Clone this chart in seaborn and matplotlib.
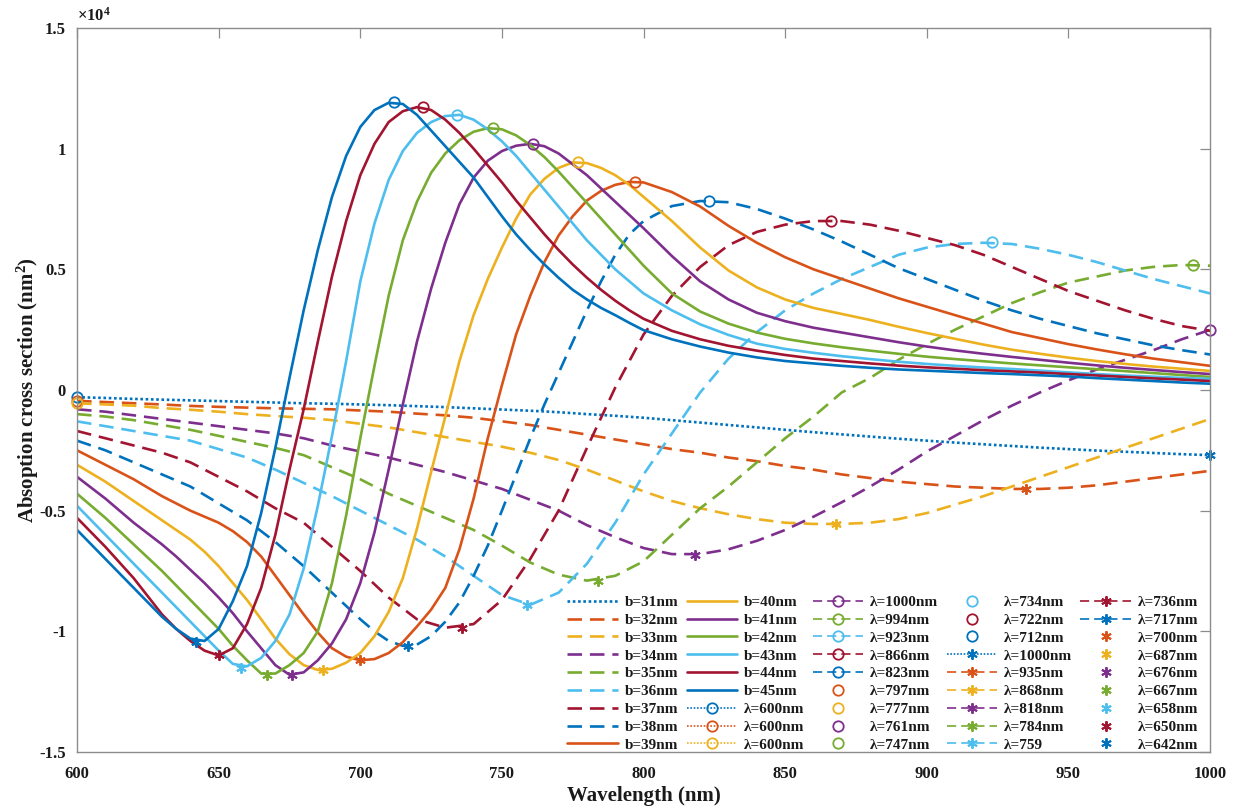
import matplotlib
matplotlib.use("Agg")
import matplotlib.pyplot as plt
import seaborn as sns

# ---------------- data (values in units of 1e4 nm^2) ----------------
# coarse grid (10 nm) for the broad curves b = 31..37
wavelength_coarse = [600, 610, 620, 630, 640, 650, 660, 670, 680, 690, 700,
                     710, 720, 730, 740, 750, 760, 770, 780, 790, 800,
                     810, 820, 830, 840, 850, 860, 870, 880, 890, 900,
                     910, 920, 930, 940, 950, 960, 970, 980, 990, 1000]
# fine grid (5 nm up to 800 nm, then 10 nm) for the sharp curves b = 38..45
wavelength_fine = [600, 605, 610, 615, 620, 625, 630, 635, 640, 645, 650,
                   655, 660, 665, 670, 675, 680, 685, 690, 695, 700,
                   705, 710, 715, 720, 725, 730, 735, 740, 745, 750,
                   755, 760, 765, 770, 775, 780, 785, 790, 795, 800,
                   810, 820, 830, 840, 850, 860, 870, 880, 890, 900,
                   910, 920, 930, 940, 950, 960, 970, 980, 990, 1000]

sigma_b31 = [-0.030, -0.033, -0.037, -0.040, -0.043, -0.046, -0.049, -0.052, -0.055, -0.057, -0.060,
             -0.063, -0.067, -0.071, -0.076, -0.081, -0.086, -0.092, -0.100, -0.107, -0.115,
             -0.125, -0.135, -0.145, -0.155, -0.165, -0.175, -0.184, -0.193, -0.202, -0.210,
             -0.218, -0.225, -0.232, -0.239, -0.245, -0.251, -0.256, -0.261, -0.266, -0.270]
sigma_b32 = [-0.045, -0.050, -0.055, -0.060, -0.066, -0.070, -0.073, -0.076, -0.078, -0.080, -0.085,
             -0.090, -0.098, -0.105, -0.115, -0.130, -0.145, -0.165, -0.185, -0.205, -0.225,
             -0.245, -0.260, -0.280, -0.295, -0.315, -0.330, -0.350, -0.365, -0.380, -0.390,
             -0.400, -0.405, -0.410, -0.410, -0.405, -0.395, -0.380, -0.365, -0.350, -0.335]
sigma_b33 = [-0.055, -0.060, -0.065, -0.075, -0.082, -0.090, -0.100, -0.108, -0.115, -0.125, -0.140,
             -0.155, -0.175, -0.195, -0.215, -0.235, -0.260, -0.290, -0.330, -0.375, -0.420,
             -0.460, -0.490, -0.515, -0.535, -0.550, -0.555, -0.555, -0.550, -0.535, -0.510,
             -0.475, -0.440, -0.400, -0.360, -0.320, -0.280, -0.240, -0.200, -0.160, -0.120]
sigma_b34 = [-0.080, -0.090, -0.105, -0.120, -0.135, -0.150, -0.165, -0.180, -0.200, -0.230, -0.255,
             -0.280, -0.310, -0.340, -0.375, -0.410, -0.455, -0.500, -0.560, -0.610, -0.655,
             -0.680, -0.680, -0.660, -0.625, -0.580, -0.525, -0.465, -0.400, -0.330, -0.255,
             -0.190, -0.125, -0.065, -0.010, 0.040, 0.085, 0.125, 0.165, 0.210, 0.249]
sigma_b35 = [-0.100, -0.110, -0.125, -0.145, -0.165, -0.190, -0.215, -0.240, -0.270, -0.320, -0.370,
             -0.430, -0.480, -0.530, -0.580, -0.645, -0.715, -0.765, -0.790, -0.770, -0.710,
             -0.600, -0.490, -0.400, -0.300, -0.200, -0.110, -0.010, 0.050, 0.125, 0.190,
             0.250, 0.305, 0.360, 0.405, 0.445, 0.470, 0.495, 0.510, 0.518, 0.515]
sigma_b36 = [-0.130, -0.150, -0.170, -0.190, -0.210, -0.245, -0.280, -0.330, -0.385, -0.440, -0.500,
             -0.560, -0.620, -0.690, -0.770, -0.850, -0.890, -0.840, -0.720, -0.550, -0.350,
             -0.180, -0.010, 0.130, 0.240, 0.330, 0.400, 0.460, 0.510, 0.560, 0.590,
             0.605, 0.610, 0.605, 0.585, 0.560, 0.530, 0.495, 0.460, 0.430, 0.400]
sigma_b37 = [-0.170, -0.200, -0.230, -0.260, -0.300, -0.360, -0.420, -0.490, -0.550, -0.650, -0.750,
             -0.860, -0.950, -0.985, -0.970, -0.870, -0.700, -0.500, -0.240, 0.010, 0.230,
             0.390, 0.510, 0.600, 0.655, 0.685, 0.700, 0.700, 0.685, 0.660, 0.630,
             0.600, 0.560, 0.510, 0.460, 0.410, 0.370, 0.330, 0.295, 0.265, 0.245]

sigma_b38 = [-0.210, -0.230, -0.250, -0.275, -0.300, -0.325, -0.350, -0.375, -0.400, -0.435, -0.470,
             -0.505, -0.540, -0.585, -0.630, -0.680, -0.730, -0.785, -0.840, -0.895, -0.950,
             -1.000, -1.040, -1.060, -1.055, -1.020, -0.960, -0.880, -0.770, -0.645, -0.500,
             -0.350, -0.200, -0.060, 0.070, 0.200, 0.330, 0.450, 0.560, 0.645, 0.700,
             0.762, 0.783, 0.778, 0.750, 0.710, 0.665, 0.615, 0.560, 0.505, 0.460,
             0.415, 0.370, 0.330, 0.295, 0.265, 0.235, 0.210, 0.185, 0.165, 0.147]
sigma_b39 = [-0.250, -0.280, -0.310, -0.340, -0.370, -0.405, -0.440, -0.470, -0.500, -0.525, -0.550,
             -0.585, -0.630, -0.690, -0.770, -0.850, -0.930, -1.005, -1.070, -1.105, -1.120,
             -1.115, -1.090, -1.045, -0.980, -0.910, -0.820, -0.660, -0.450, -0.200, 0.020,
             0.230, 0.390, 0.530, 0.640, 0.720, 0.785, 0.825, 0.850, 0.862, 0.860,
             0.820, 0.760, 0.680, 0.610, 0.550, 0.500, 0.460, 0.420, 0.380, 0.345,
             0.310, 0.275, 0.240, 0.215, 0.190, 0.168, 0.148, 0.130, 0.115, 0.100]
sigma_b40 = [-0.310, -0.345, -0.380, -0.420, -0.460, -0.500, -0.540, -0.580, -0.620, -0.670, -0.730,
             -0.800, -0.870, -0.950, -1.030, -1.095, -1.140, -1.160, -1.155, -1.130, -1.090,
             -1.020, -0.920, -0.780, -0.575, -0.340, -0.110, 0.120, 0.310, 0.460, 0.590,
             0.710, 0.810, 0.875, 0.920, 0.943, 0.940, 0.920, 0.890, 0.850, 0.800,
             0.700, 0.590, 0.495, 0.425, 0.375, 0.340, 0.315, 0.290, 0.262, 0.236,
             0.212, 0.188, 0.167, 0.150, 0.134, 0.120, 0.108, 0.097, 0.088, 0.079]
sigma_b41 = [-0.360, -0.405, -0.450, -0.500, -0.550, -0.595, -0.640, -0.690, -0.745, -0.800, -0.860,
             -0.925, -1.000, -1.070, -1.140, -1.180, -1.170, -1.120, -1.050, -0.950, -0.800,
             -0.590, -0.330, -0.060, 0.200, 0.420, 0.610, 0.770, 0.880, 0.950, 0.990,
             1.012, 1.020, 1.010, 0.980, 0.935, 0.890, 0.835, 0.780, 0.725, 0.670,
             0.555, 0.450, 0.375, 0.320, 0.285, 0.258, 0.238, 0.218, 0.198, 0.180,
             0.164, 0.150, 0.137, 0.125, 0.113, 0.102, 0.092, 0.083, 0.074, 0.066]
sigma_b42 = [-0.430, -0.480, -0.530, -0.585, -0.640, -0.695, -0.750, -0.810, -0.870, -0.930, -0.990,
             -1.060, -1.120, -1.175, -1.175, -1.140, -1.090, -1.000, -0.800, -0.520, -0.200,
             0.100, 0.390, 0.620, 0.780, 0.900, 0.980, 1.035, 1.070, 1.085, 1.080,
             1.055, 1.015, 0.965, 0.905, 0.840, 0.775, 0.710, 0.645, 0.580, 0.515,
             0.400, 0.325, 0.275, 0.238, 0.212, 0.193, 0.177, 0.163, 0.150, 0.138,
             0.128, 0.119, 0.110, 0.102, 0.094, 0.086, 0.078, 0.070, 0.062, 0.054]
sigma_b43 = [-0.480, -0.540, -0.600, -0.660, -0.720, -0.780, -0.840, -0.900, -0.960, -1.020, -1.080,
             -1.135, -1.145, -1.110, -1.040, -0.930, -0.740, -0.480, -0.190, 0.120, 0.450,
             0.690, 0.870, 0.990, 1.065, 1.110, 1.135, 1.140, 1.120, 1.080, 1.030,
             0.970, 0.900, 0.830, 0.760, 0.690, 0.620, 0.560, 0.500, 0.450, 0.400,
             0.330, 0.272, 0.228, 0.192, 0.170, 0.154, 0.140, 0.128, 0.117, 0.108,
             0.100, 0.093, 0.087, 0.080, 0.073, 0.066, 0.060, 0.055, 0.050, 0.046]
sigma_b44 = [-0.530, -0.590, -0.650, -0.715, -0.780, -0.855, -0.930, -0.990, -1.040, -1.080, -1.100,
             -1.070, -0.970, -0.820, -0.600, -0.330, -0.080, 0.200, 0.470, 0.700, 0.890,
             1.020, 1.110, 1.155, 1.172, 1.160, 1.120, 1.065, 1.000, 0.930, 0.860,
             0.785, 0.715, 0.645, 0.580, 0.520, 0.465, 0.415, 0.370, 0.330, 0.295,
             0.245, 0.210, 0.183, 0.163, 0.145, 0.130, 0.120, 0.110, 0.101, 0.094,
             0.088, 0.082, 0.077, 0.072, 0.066, 0.060, 0.054, 0.048, 0.043, 0.037]
sigma_b45 = [-0.580, -0.640, -0.700, -0.760, -0.820, -0.880, -0.940, -0.990, -1.030, -1.040, -0.990,
             -0.875, -0.730, -0.510, -0.240, 0.050, 0.330, 0.580, 0.800, 0.970, 1.090,
             1.160, 1.190, 1.185, 1.140, 1.075, 1.010, 0.945, 0.880, 0.800, 0.720,
             0.645, 0.580, 0.520, 0.465, 0.415, 0.375, 0.340, 0.310, 0.278, 0.248,
             0.210, 0.180, 0.155, 0.135, 0.120, 0.110, 0.100, 0.092, 0.085, 0.080,
             0.075, 0.070, 0.066, 0.061, 0.056, 0.049, 0.043, 0.037, 0.031, 0.026]

b_values = [31, 32, 33, 34, 35, 36, 37, 38, 39, 40, 41, 42, 43, 44, 45]
curve_labels = ["b=%dnm" % b for b in b_values]

lam_max = [600, 600, 600, 1000, 994, 923, 866, 823, 797, 777, 761, 747, 734, 722, 712]
val_max = [-0.030, -0.045, -0.055, 0.249, 0.519, 0.614, 0.700, 0.784, 0.863, 0.946, 1.020, 1.087, 1.141, 1.172, 1.195]
max_labels = ["λ=600nm", "λ=600nm", "λ=600nm", "λ=1000nm", "λ=994nm", "λ=923nm", "λ=866nm", "λ=823nm",
              "λ=797nm", "λ=777nm", "λ=761nm", "λ=747nm", "λ=734nm", "λ=722nm", "λ=712nm"]

lam_min = [1000, 935, 868, 818, 784, 759, 736, 717, 700, 687, 676, 667, 658, 650, 642]
val_min = [-0.270, -0.410, -0.556, -0.682, -0.790, -0.892, -0.985, -1.062, -1.120, -1.160, -1.182, -1.180, -1.150, -1.100, -1.046]
min_labels = ["λ=1000nm", "λ=935nm", "λ=868nm", "λ=818nm", "λ=784nm", "λ=759", "λ=736nm", "λ=717nm",
              "λ=700nm", "λ=687nm", "λ=676nm", "λ=667nm", "λ=658nm", "λ=650nm", "λ=642nm"]

x_ticks = [600, 650, 700, 750, 800, 850, 900, 950, 1000]
y_ticks = [-1.5, -1.0, -0.5, 0.0, 0.5, 1.0, 1.5]
y_tick_labels = ["-1.5", "-1", "-0.5", "0", "0.5", "1", "1.5"]

series = [sigma_b31, sigma_b32, sigma_b33, sigma_b34, sigma_b35, sigma_b36, sigma_b37, sigma_b38,
          sigma_b39, sigma_b40, sigma_b41, sigma_b42, sigma_b43, sigma_b44, sigma_b45]

# ---------------- style ----------------
sns.set_theme(style="white")
plt.rcParams["font.family"] = ["Liberation Serif", "DejaVu Serif"]
plt.rcParams["font.weight"] = "bold"
plt.rcParams["mathtext.fontset"] = "custom"
plt.rcParams["mathtext.rm"] = "Liberation Serif:bold"
plt.rcParams["mathtext.bf"] = "Liberation Serif:bold"
plt.rcParams["mathtext.it"] = "Liberation Serif:bold:italic"

matlab = ["#0072BD", "#D95319", "#EDB120", "#7E2F8E", "#77AC30", "#4DBEEE", "#A2142F"]
DOT = (0, (1, 1))
DASH = (0, (5.5, 3.0))


def curve_style(b):
    if b == 31:
        return DOT
    if b <= 38:
        return DASH
    return "-"


fig = plt.figure(figsize=(12.33, 8.06), dpi=100)
ax = fig.add_axes([0.0625, 0.067, 0.9189, 0.8983])

for i, b in enumerate(b_values):
    col = matlab[i % 7]
    xs = wavelength_coarse if b <= 37 else wavelength_fine
    sns.lineplot(x=xs, y=series[i], ax=ax, color=col, linestyle=curve_style(b),
                 linewidth=1.9, label=curve_labels[i], legend=False, sort=False)

for i, b in enumerate(b_values):
    col = matlab[i % 7]
    ls = "None" if b >= 39 else (DOT if b <= 33 else DASH)
    sns.lineplot(x=[lam_max[i]], y=[val_max[i]], ax=ax, color=col, linestyle=ls, linewidth=1.2,
                 marker="o", markersize=7.5, markerfacecolor="none", markeredgecolor=col,
                 markeredgewidth=1.3, label=max_labels[i], legend=False, clip_on=False)

for i, b in enumerate(b_values):
    col = matlab[i % 7]
    ls = "None" if b >= 39 else (DOT if b == 31 else DASH)
    sns.lineplot(x=[lam_min[i]], y=[val_min[i]], ax=ax, color=col, linestyle=ls, linewidth=1.2,
                 marker=(6, 2, 0), markersize=7.5, markeredgecolor=col,
                 markeredgewidth=1.4, label=min_labels[i], legend=False, clip_on=False)

ax.set_xlim(600, 1000)
ax.set_ylim(-1.5, 1.5)
ax.set_xticks(x_ticks)
ax.set_xticklabels([str(t) for t in x_ticks])
ax.set_yticks(y_ticks)
ax.set_yticklabels(y_tick_labels)

for s in ax.spines.values():
    s.set_color("#8c8c8c")
    s.set_linewidth(1.0)
ax.tick_params(axis="both", direction="in", top=True, right=True, length=7, width=0.9,
               colors="#8c8c8c", labelcolor="#1a1a1a", labelsize=12)
ax.tick_params(axis="x", pad=10)
ax.tick_params(axis="y", pad=8)
for lab in ax.get_xticklabels() + ax.get_yticklabels():
    lab.set_fontweight("bold")

ax.set_xlabel("Wavelength (nm)", fontsize=15, fontweight="bold", color="#1a1a1a", labelpad=3)
ax.set_ylabel("Absoption cross section (nm$^2$)", fontsize=15, fontweight="bold", color="#1a1a1a", labelpad=-1)
ax.text(0.0, 1.004, r"$\times10^{4}$", transform=ax.transAxes, fontsize=12, ha="left", va="bottom",
        color="#1a1a1a")

h, l = ax.get_legend_handles_labels()
leg = ax.legend(h, l, ncol=5, loc="lower right", bbox_to_anchor=(0.995, -0.008), frameon=False,
                fontsize=11, handlelength=3.3, handletextpad=0.45, columnspacing=0.55,
                labelspacing=0.27, borderaxespad=0.0)
for t in leg.get_texts():
    t.set_fontweight("bold")
    t.set_color("#1a1a1a")

fig.savefig("out.png", dpi=100)
